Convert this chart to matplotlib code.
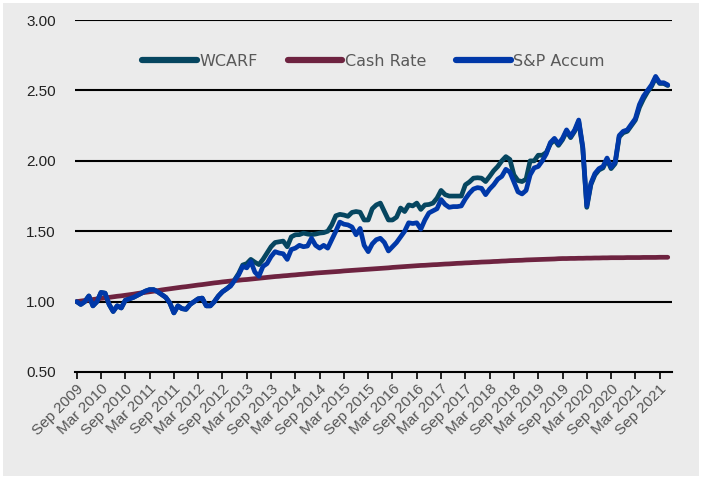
import matplotlib
matplotlib.use("Agg")
import matplotlib.pyplot as plt
import numpy as np

# Monthly data, Sep 2009 .. Nov 2021 (147 months)
sp_accum = [
    1.00, 0.98, 1.00, 1.04, 0.97, 1.00, 1.065, 1.06, 0.98, 0.93,
    0.97, 0.955, 1.01, 1.02, 1.03, 1.045, 1.06, 1.075, 1.085, 1.085,
    1.07, 1.05, 1.03, 0.99, 0.92, 0.97, 0.95, 0.945, 0.98, 1.00,
    1.02, 1.025, 0.97, 0.97, 1.00, 1.04, 1.07, 1.09, 1.11, 1.15,
    1.19, 1.25, 1.24, 1.285, 1.21, 1.18, 1.25, 1.27, 1.32, 1.355,
    1.345, 1.34, 1.30, 1.37, 1.38, 1.40, 1.39, 1.395, 1.45, 1.40,
    1.38, 1.40, 1.38, 1.44, 1.50, 1.565, 1.55, 1.545, 1.53, 1.475,
    1.52, 1.40, 1.355, 1.41, 1.44, 1.45, 1.42, 1.36, 1.39, 1.42,
    1.46, 1.50, 1.56, 1.555, 1.56, 1.515, 1.58, 1.63, 1.645, 1.66,
    1.725, 1.69, 1.67, 1.675, 1.675, 1.68, 1.73, 1.77, 1.80, 1.81,
    1.805, 1.76, 1.80, 1.83, 1.87, 1.89, 1.94, 1.92, 1.85, 1.78,
    1.765, 1.79, 1.90, 1.95, 1.96, 2.00, 2.05, 2.13, 2.16, 2.12,
    2.16, 2.22, 2.175, 2.22, 2.29, 2.10, 1.68, 1.84, 1.91, 1.945,
    1.96, 2.02, 1.955, 1.99, 2.18, 2.21, 2.22, 2.26, 2.30, 2.40,
    2.46, 2.50, 2.54, 2.60, 2.555, 2.555, 2.54,
]

wcarf = [
    1.00, 0.98, 1.00, 1.04, 0.97, 1.00, 1.065, 1.06, 0.98, 0.93,
    0.97, 0.955, 1.01, 1.02, 1.03, 1.045, 1.06, 1.075, 1.085, 1.085,
    1.07, 1.05, 1.03, 0.99, 0.92, 0.97, 0.95, 0.945, 0.98, 1.00,
    1.02, 1.025, 0.97, 0.97, 1.00, 1.04, 1.07, 1.09, 1.115, 1.155,
    1.20, 1.26, 1.27, 1.30, 1.28, 1.263, 1.30, 1.345, 1.39, 1.42,
    1.425, 1.43, 1.39, 1.46, 1.475, 1.476, 1.487, 1.48, 1.476, 1.48,
    1.487, 1.49, 1.50, 1.545, 1.61, 1.62, 1.615, 1.606, 1.634, 1.64,
    1.635, 1.58, 1.58, 1.66, 1.687, 1.70, 1.64, 1.58, 1.58, 1.60,
    1.665, 1.64, 1.687, 1.68, 1.70, 1.655, 1.687, 1.69, 1.70, 1.735,
    1.79, 1.76, 1.75, 1.75, 1.75, 1.75, 1.83, 1.85, 1.877, 1.88,
    1.877, 1.853, 1.89, 1.93, 1.96, 2.00, 2.03, 2.01, 1.90, 1.86,
    1.853, 1.87, 2.00, 2.00, 2.04, 2.04, 2.06, 2.12, 2.15, 2.11,
    2.15, 2.21, 2.165, 2.21, 2.28, 2.09, 1.67, 1.83, 1.90, 1.935,
    1.95, 2.01, 1.945, 1.98, 2.17, 2.20, 2.21, 2.25, 2.29, 2.38,
    2.44, 2.49, 2.53, 2.59, 2.55, 2.55, 2.535,
]

cash_rate = [
    1.000, 1.004, 1.008, 1.011, 1.015, 1.019, 1.023, 1.026, 1.030, 1.034, 1.038, 1.041, 1.045,
    1.049, 1.053, 1.058, 1.062, 1.066, 1.070, 1.074, 1.078, 1.083, 1.087, 1.091, 1.095,
    1.099, 1.103, 1.106, 1.110, 1.114, 1.118, 1.121, 1.125, 1.129, 1.133, 1.136, 1.140,
    1.143, 1.146, 1.149, 1.152, 1.155, 1.157, 1.160, 1.163, 1.166, 1.169, 1.172, 1.175,
    1.178, 1.180, 1.183, 1.185, 1.188, 1.190, 1.193, 1.195, 1.198, 1.200, 1.203, 1.205,
    1.207, 1.209, 1.211, 1.213, 1.215, 1.218, 1.220, 1.222, 1.224, 1.226, 1.228, 1.230,
    1.232, 1.234, 1.236, 1.238, 1.240, 1.243, 1.245, 1.247, 1.249, 1.251, 1.253, 1.255,
    1.257, 1.258, 1.260, 1.262, 1.263, 1.265, 1.267, 1.268, 1.270, 1.272, 1.273, 1.275,
    1.276, 1.278, 1.279, 1.281, 1.282, 1.283, 1.285, 1.286, 1.288, 1.289, 1.291, 1.292,
    1.293, 1.294, 1.296, 1.297, 1.298, 1.299, 1.300, 1.301, 1.302, 1.303, 1.305, 1.306,
    1.306, 1.307, 1.307, 1.308, 1.308, 1.309, 1.309, 1.310, 1.310, 1.311, 1.311, 1.312,
    1.312, 1.312, 1.312, 1.313, 1.313, 1.313, 1.313, 1.314, 1.314, 1.314, 1.314, 1.315, 1.315, 1.315,
]

tick_labels = [
    "Sep 2009", "Mar 2010", "Sep 2010", "Mar 2011", "Sep 2011", "Mar 2012",
    "Sep 2012", "Mar 2013", "Sep 2013", "Mar 2014", "Sep 2014", "Mar 2015",
    "Sep 2015", "Mar 2016", "Sep 2016", "Mar 2017", "Sep 2017", "Mar 2018",
    "Sep 2018", "Mar 2019", "Sep 2019", "Mar 2020", "Sep 2020", "Mar 2021",
    "Sep 2021",
]
y_ticks = [0.5, 1.0, 1.5, 2.0, 2.5, 3.0]

BG = "#EBEBEB"
fig = plt.figure(figsize=(7.02, 4.79), dpi=100)
fig.patch.set_facecolor(BG)
fig.patch.set_edgecolor("white")
fig.patch.set_linewidth(3)

ax = fig.add_axes([0.107, 0.2234, 0.85, 0.7346])
ax.set_facecolor(BG)

x = np.arange(len(sp_accum))
ax.plot(x, wcarf, color="#064660", lw=3.4, label="WCARF", solid_capstyle="round", zorder=3)
ax.plot(x, cash_rate, color="#6E2340", lw=3.4, label="Cash Rate", solid_capstyle="round", zorder=3)
ax.plot(x, sp_accum, color="#0038A8", lw=3.4, label="S&P Accum", solid_capstyle="round", zorder=4)

ax.set_ylim(0.5, 3.0)
ax.set_yticks(y_ticks)
ax.set_yticklabels([f"{v:.2f}" for v in y_ticks])
ax.set_xlim(-0.4, 147)
ax.set_xticks(np.arange(0, 6 * len(tick_labels), 6))
ax.set_xticklabels(tick_labels, rotation=45, ha="right", va="top", rotation_mode="anchor")

for v in y_ticks[1:]:
    ax.axhline(v, color="black", lw=1.5, zorder=1)

for s in ["top", "right", "left"]:
    ax.spines[s].set_visible(False)
ax.spines["bottom"].set_color("black")
ax.spines["bottom"].set_linewidth(1.5)

ax.tick_params(axis="y", length=0, pad=14, labelsize=11, labelcolor="#222222")
ax.tick_params(axis="x", length=5, width=1.2, direction="out", color="black",
               labelsize=11, labelcolor="#555555", pad=2)
for lbl in ax.get_xticklabels() + ax.get_yticklabels():
    lbl.set_family(["Liberation Sans", "DejaVu Sans"])

leg = ax.legend(loc="upper center", bbox_to_anchor=(0.5, 0.945), ncol=3, frameon=False,
                handlelength=3.4, handletextpad=0.15, columnspacing=1.9,
                prop={"family": "DejaVu Sans", "size": 11.5})
for t in leg.get_texts():
    t.set_color("#595959")
for h in leg.get_lines():
    h.set_linewidth(4.5)

fig.savefig("out.png", dpi=100, facecolor=BG, edgecolor="white")
